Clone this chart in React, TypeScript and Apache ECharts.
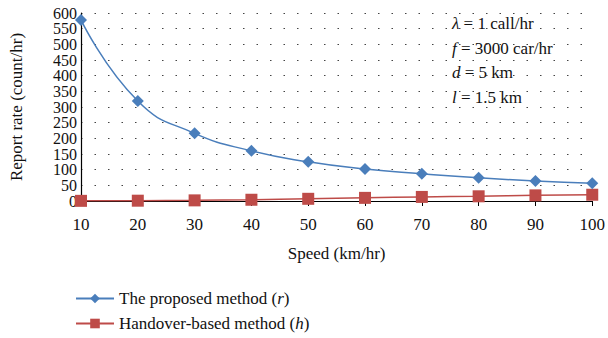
import React, { useEffect, useRef } from "react";
import * as echarts from "echarts";

const speeds = ["10", "20", "30", "40", "50", "60", "70", "80", "90", "100"];
const proposed = [578, 319, 216, 160, 125, 102, 87, 74, 64, 57];
const handover = [0.5, 1, 2, 4, 7, 10, 13, 15, 18, 20];
const seriesNames = ["The proposed method", "Handover-based method"];
const seriesVars = ["r", "h"];
const yMin = 0;
const yMax = 600;
const yStep = 50;
const paramLines = [
  ["λ", " = 1 call/hr"],
  ["f", " = 3000 car/hr"],
  ["d", " = 5 km"],
  ["l", " = 1.5 km"],
];

const FONT = "Liberation Serif";

export default function App() {
  const ref = useRef<HTMLDivElement>(null);
  useEffect(() => {
    if (!ref.current) return;
    const chart = echarts.init(ref.current, undefined, { renderer: "svg" });
    const yLabelStyle = { fontFamily: FONT, fontSize: 16, color: "#111", margin: 4 };
    chart.setOption({
      animation: false,
      backgroundColor: "#ffffff",
      textStyle: { fontFamily: FONT },
      grid: { left: 73, right: 15, top: 13, bottom: 137, containLabel: false },
      xAxis: {
        type: "category",
        data: speeds,
        boundaryGap: false,
        name: "Speed (km/hr)",
        nameLocation: "middle",
        nameGap: 44,
        nameTextStyle: { fontFamily: FONT, fontSize: 17, color: "#111" },
        axisLine: { lineStyle: { color: "#000", width: 1.2 } },
        axisTick: { show: true, alignWithLabel: true, length: 5, lineStyle: { color: "#000" } },
        axisLabel: { fontFamily: FONT, fontSize: 17, color: "#111", margin: 15 },
        splitLine: { show: false },
      },
      yAxis: [
        {
          type: "value",
          position: "left",
          min: yMin,
          max: yMax,
          interval: yStep,
          name: "Report rate (count/hr)",
          nameLocation: "middle",
          nameGap: 56,
          nameRotate: 90,
          nameTextStyle: { fontFamily: FONT, fontSize: 17, color: "#111" },
          axisLine: { show: true, lineStyle: { color: "#000", width: 1.2 } },
          axisTick: { show: false },
          axisLabel: { ...yLabelStyle, showMinLabel: true, showMaxLabel: true },
          splitLine: {
            show: true,
            lineStyle: { color: "#444", type: [1.5, 12], width: 1.2 },
          },
        },
        {
          // companion axis: shows the 2nd and 2nd-to-last labels that the
          // primary axis drops because of its min/max-label overlap rule
          type: "value",
          position: "left",
          min: yMin,
          max: yMax,
          interval: yStep,
          axisLine: { show: false },
          axisTick: { show: false },
          splitLine: { show: false },
          axisLabel: {
            ...yLabelStyle,
            showMinLabel: false,
            showMaxLabel: false,
            formatter: (v: number) =>
              v === yMin + yStep || v === yMax - yStep ? String(v) : "",
          },
        },
      ],
      legend: {
        orient: "vertical",
        left: 70,
        top: 285,
        itemWidth: 38,
        itemHeight: 12,
        itemGap: 8,
        textStyle: {
          fontFamily: FONT,
          fontSize: 17,
          color: "#111",
          rich: { i: { fontFamily: FONT, fontSize: 17, fontStyle: "italic", color: "#111" } },
        },
        formatter: (name: string) => {
          const idx = seriesNames.indexOf(name);
          return `${name} ({i|${seriesVars[idx]}})`;
        },
        data: seriesNames,
      },
      series: [
        {
          name: seriesNames[0],
          type: "line",
          data: proposed,
          smooth: true,
          symbol: "diamond",
          symbolSize: 12,
          itemStyle: { color: "#4A7EBB" },
          lineStyle: { color: "#4A7EBB", width: 1.5 },
          z: 3,
        },
        {
          name: seriesNames[1],
          type: "line",
          data: handover,
          smooth: true,
          symbol: "rect",
          symbolSize: 12,
          itemStyle: { color: "#BE4B48" },
          lineStyle: { color: "#BE4B48", width: 1.5 },
          z: 2,
        },
      ],
      graphic: paramLines.map((p, k) => ({
        type: "text",
        left: 452,
        top: 15 + k * 24.5,
        style: {
          text: `{i|${p[0]}}${p[1]}`,
          fontFamily: FONT,
          fontSize: 17,
          fill: "#111",
          rich: { i: { fontFamily: FONT, fontSize: 17, fontStyle: "italic", fill: "#111" } },
        },
      })),
    });
    return () => chart.dispose();
  }, []);
  return <div ref={ref} style={{ width: 608, height: 338, position: "absolute", left: 0, top: 0 }} />;
}
